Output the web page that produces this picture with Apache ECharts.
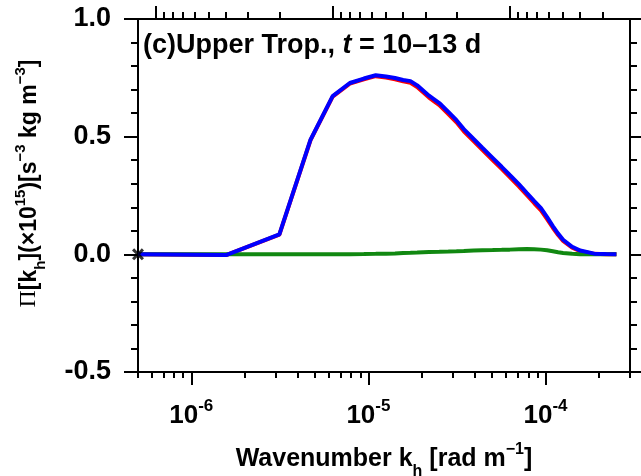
<!DOCTYPE html>
<html>
<head>
<meta charset="utf-8">
<script src="https://cdn.jsdelivr.net/npm/echarts@6/dist/echarts.min.js"></script>
<style>
  html, body { margin: 0; padding: 0; background: #fff; }
  #chart { width: 641px; height: 476px; }
</style>
</head>
<body>
<div id="chart"></div>
<script>
// Horizontal wavenumber k_h [rad m^-1]
const wavenumber = [5.0e-7, 1.571e-6, 3.142e-6, 4.712e-6, 6.283e-6, 7.854e-6, 9.425e-6, 1.100e-5,
  1.257e-5, 1.414e-5, 1.571e-5, 1.728e-5, 1.885e-5, 2.199e-5, 2.513e-5, 2.827e-5, 3.142e-5,
  3.456e-5, 3.927e-5, 4.398e-5, 5.027e-5, 5.655e-5, 6.283e-5, 7.069e-5, 7.854e-5, 8.639e-5,
  9.425e-5, 1.021e-4, 1.100e-4, 1.178e-4, 1.257e-4, 1.414e-4, 1.571e-4, 1.885e-4, 2.199e-4, 2.513e-4];

// Spectral energy flux Π[k_h] (×10^15) [s^-3 kg m^-3]
const fluxTotal = [0.000, -0.003, 0.085, 0.487, 0.672, 0.728, 0.747, 0.761, 0.756, 0.749, 0.741,
  0.736, 0.718, 0.674, 0.643, 0.605, 0.570, 0.532, 0.490, 0.453, 0.410, 0.372, 0.337, 0.298,
  0.260, 0.226, 0.196, 0.158, 0.120, 0.088, 0.062, 0.032, 0.016, 0.003, 0.001, 0.000];
const fluxRot = [0.000, -0.003, 0.084, 0.485, 0.670, 0.725, 0.744, 0.757, 0.751, 0.744, 0.735,
  0.729, 0.711, 0.666, 0.634, 0.596, 0.561, 0.523, 0.481, 0.444, 0.401, 0.363, 0.328, 0.289,
  0.251, 0.217, 0.187, 0.150, 0.113, 0.082, 0.057, 0.028, 0.013, 0.002, 0.000, 0.000];
const fluxDiv = [0.000, 0.000, 0.000, 0.000, 0.000, 0.000, 0.001, 0.002, 0.003, 0.004, 0.006,
  0.007, 0.008, 0.010, 0.011, 0.012, 0.013, 0.014, 0.016, 0.017, 0.018, 0.019, 0.020, 0.022,
  0.023, 0.022, 0.020, 0.017, 0.013, 0.009, 0.006, 0.002, 0.000, 0.000, 0.000, 0.000];

// Marked point at the smallest wavenumber
const markPoint = [[5.0e-7, 0.0]];

// Axis ticks
const xMajorTicks = [1e-6, 1e-5, 1e-4];
const xMinorTicks = [5e-7, 6e-7, 7e-7, 8e-7, 9e-7,
  2e-6, 3e-6, 4e-6, 5e-6, 6e-6, 7e-6, 8e-6, 9e-6,
  2e-5, 3e-5, 4e-5, 5e-5, 6e-5, 7e-5, 8e-5, 9e-5,
  2e-4, 3e-4];
// Top axis: wavelength 2π/k_h in km
const wavelengthMajorKm = [10000, 1000, 100];
const wavelengthMinorKm = [9000, 8000, 7000, 6000, 5000, 4000, 3000, 2000,
  900, 800, 700, 600, 500, 400, 300, 200,
  90, 80, 70, 60, 50, 40, 30];
const yMin = -0.5, yMax = 1.0, yStep = 0.5;

const FONT = '"Liberation Sans", Arial, Helvetica, sans-serif';
const SERIF = '"Liberation Serif", "Times New Roman", serif';
const BLACK = '#000';

const toK = km => 2 * Math.PI / (km * 1000);
const pairs = vals => wavenumber.map((k, i) => [k, vals[i]]);

// Rich text styles: base text, superscript (s) and subscript (h)
function richSet(size, supSize, supLift, subDrop) {
  const base = { fontFamily: FONT, fontSize: size, fontWeight: 'bold', color: BLACK,
    lineHeight: size + 1, verticalAlign: 'bottom', padding: [0, 0, subDrop, 0] };
  const small = { fontFamily: FONT, fontSize: supSize, fontWeight: 'bold', color: BLACK,
    lineHeight: supSize, verticalAlign: 'bottom' };
  return {
    b: base,
    bi: { ...base, fontStyle: 'italic' },
    s: { ...small, padding: [0, 0, supLift, 0] },
    h: { ...small, padding: [0, 0, 0, 0] },
    pi: { ...base, fontFamily: SERIF, fontWeight: 'normal', fontSize: size + 1 }
  };
}
const richTitle = richSet(27, 17, 22, 8);
const richTick = richSet(26, 17, 22, 8);
const richXName = richSet(25, 16, 22, 8);
const richYName = richSet(23, 15, 20, 7);

const xRange = { type: 'log', logBase: 10, min: 5e-7, max: 3e-4, splitLine: { show: false } };
const axisLine = { show: true, onZero: false, lineStyle: { color: BLACK, width: 2 } };
const noLine = { show: false, onZero: false };
const tickLine = { color: BLACK, width: 2 };

const chart = echarts.init(document.getElementById('chart'), null, { renderer: 'canvas' });

chart.setOption({
  backgroundColor: '#fff',
  animation: false,
  grid: { left: 138, right: 11, top: 19, bottom: 104, containLabel: false, outerBoundsMode: 'none' },
  graphic: [{
    type: 'text',
    left: 143,
    top: 32,
    style: {
      text: '{b|(c)Upper Trop., }{bi|t}{b| = 10–13 d}',
      rich: richTitle
    }
  }],
  xAxis: [
    {
      ...xRange, position: 'bottom',
      axisLine,
      axisTick: { show: true, length: 13, lineStyle: tickLine, customValues: xMajorTicks },
      axisLabel: {
        customValues: xMajorTicks,
        margin: 38,
        formatter: v => '{b|10}{s|' + Math.round(Math.log10(v)) + '}',
        rich: richTick
      },
      name: '{b|Wavenumber k}{h|h}{b| [rad m}{s|−1}{b|]}',
      nameLocation: 'middle',
      nameGap: 77,
      nameTextStyle: { rich: richXName }
    },
    {
      ...xRange, position: 'bottom',
      axisLine: noLine,
      axisTick: { show: true, length: 6, lineStyle: tickLine, customValues: xMinorTicks },
      axisLabel: { show: false }
    },
    {
      ...xRange, position: 'top',
      axisLine,
      axisTick: { show: true, length: 13, lineStyle: tickLine, customValues: wavelengthMajorKm.map(toK) },
      axisLabel: { show: false }
    },
    {
      ...xRange, position: 'top',
      axisLine: noLine,
      axisTick: { show: true, length: 7, lineStyle: tickLine, customValues: wavelengthMinorKm.map(toK) },
      axisLabel: { show: false }
    }
  ],
  yAxis: [
    {
      type: 'value', position: 'left', min: yMin, max: yMax, interval: yStep,
      axisLine,
      axisTick: { show: true, length: 14, lineStyle: tickLine },
      minorTick: { show: true, splitNumber: 5, length: 7, lineStyle: tickLine },
      splitLine: { show: false },
      axisLabel: {
        margin: 27,
        formatter: v => v.toFixed(1),
        fontFamily: FONT, fontSize: 27, fontWeight: 'bold', color: BLACK
      },
      name: '{pi|Π}{b|[k}{h|h}{b|](×10}{s|15}{b|)[s}{s|−3}{b| kg m}{s|−3}{b|]}',
      nameLocation: 'middle',
      nameRotate: 90,
      nameGap: 90,
      nameTextStyle: { rich: richYName, padding: [0, 0, 0, 24] }
    },
    {
      type: 'value', position: 'right', min: yMin, max: yMax, interval: yStep,
      axisLine,
      axisTick: { show: true, length: 11, lineStyle: tickLine },
      minorTick: { show: true, splitNumber: 5, length: 7, lineStyle: tickLine },
      splitLine: { show: false },
      axisLabel: { show: false }
    }
  ],
  series: [
    {
      name: 'rotational', type: 'line', data: pairs(fluxRot),
      showSymbol: false, symbol: 'none',
      lineStyle: { color: '#ff0000', width: 4 }, z: 2
    },
    {
      name: 'divergent', type: 'line', data: pairs(fluxDiv),
      showSymbol: false, symbol: 'none',
      lineStyle: { color: '#118811', width: 4 }, z: 3
    },
    {
      name: 'total', type: 'line', data: pairs(fluxTotal),
      showSymbol: false, symbol: 'none',
      lineStyle: { color: '#0000ff', width: 4 }, z: 4
    },
    {
      name: 'mark', type: 'scatter', data: markPoint, clip: false,
      symbol: 'path://M0,1.8L1.8,0L5,3.2L8.2,0L10,1.8L6.8,5L10,8.2L8.2,10L5,6.8L1.8,10L0,8.2L3.2,5Z',
      symbolSize: 12,
      itemStyle: { color: BLACK }, z: 6
    }
  ]
});
</script>
</body>
</html>
